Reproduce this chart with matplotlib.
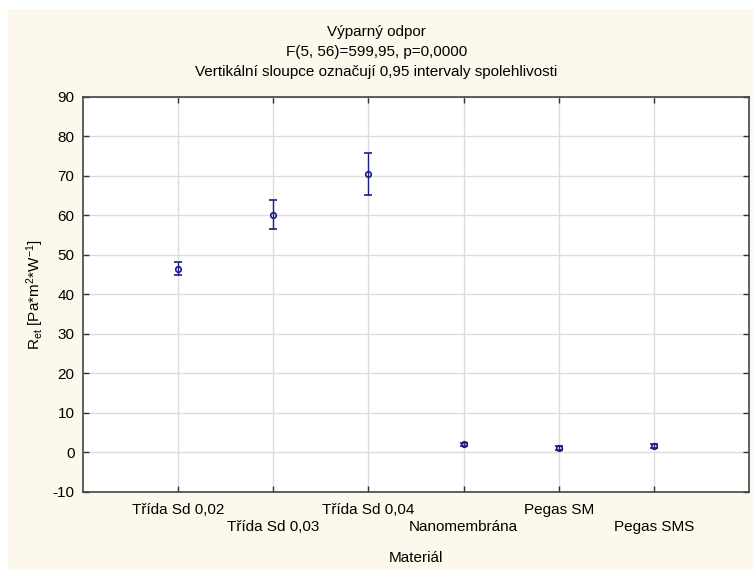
import numpy as np
import matplotlib.pyplot as plt
from matplotlib.patches import Rectangle

plt.rcParams['font.family'] = ['Liberation Sans', 'DejaVu Sans']
plt.rcParams['mathtext.default'] = 'regular'
plt.rcParams['axes.unicode_minus'] = False

# data
materials = ['Třída Sd 0,02', 'Třída Sd 0,03', 'Třída Sd 0,04',
             'Nanomembrána', 'Pegas SM', 'Pegas SMS']
means = [46.5, 60.2, 70.4, 2.1, 1.1, 1.6]
ci_low = [44.9, 56.6, 65.2, 1.7, 0.6, 1.1]
ci_high = [48.3, 63.9, 75.9, 2.5, 1.6, 2.1]

navy = '#1c1c8a'
bg = '#fcf8ec'

fig = plt.figure(figsize=(7.53, 5.70), dpi=100, facecolor='white')
# cream panel, with the thin white strip on top / left like the original
fig.patches.append(Rectangle((8 / 753, 0), 1, 1 - 9 / 570, transform=fig.transFigure,
                             facecolor=bg, edgecolor='none', zorder=-1))

ax = fig.add_axes([0.110, 0.137, 0.8847, 0.693])
ax.set_facecolor('white')

x = np.arange(1, len(materials) + 1)
m = np.array(means)
yerr = np.vstack([m - np.array(ci_low), np.array(ci_high) - m])
ax.errorbar(x, m, yerr=yerr, fmt='o', color=navy, mfc='none', mec=navy,
            ms=4, mew=1.2, elinewidth=1.0, capsize=3, capthick=1.0, zorder=3)

ax.set_xlim(0, 7)
ax.set_ylim(-10, 90)
ax.set_yticks(np.arange(-10, 91, 10))
ax.set_xticks(x)
labels = [t if i % 2 == 0 else '\n' + t for i, t in enumerate(materials)]
ax.set_xticklabels(labels, linespacing=1.25)

ax.grid(True, color='#dcdcdc', lw=1.0, zorder=0)
ax.set_axisbelow(True)
ax.tick_params(direction='in', length=4, width=1, colors='#333333',
               labelcolor='black', labelsize=11, top=True, right=True)
ax.tick_params(axis='x', pad=8)
ax.tick_params(axis='y', pad=6)
for s in ax.spines.values():
    s.set_color('#444444')
    s.set_linewidth(1.2)

ax.set_xlabel('Materiál', fontsize=11)
ax.xaxis.set_label_coords(0.5, -0.149)
ax.set_ylabel('R$_{et}$ [Pa*m$^{2}$*W$^{-1}$]', fontsize=11)
ax.yaxis.set_label_coords(-0.056, 0.5)

fig.text(0.5, 0.943, 'Výparný odpor', ha='center', va='center', fontsize=11)
fig.text(0.5, 0.908, 'F(5, 56)=599,95, p=0,0000', ha='center', va='center', fontsize=11)
fig.text(0.5, 0.873, 'Vertikální sloupce označují 0,95 intervaly spolehlivosti',
         ha='center', va='center', fontsize=11)

fig.savefig('out.png', dpi=100, facecolor=fig.get_facecolor())
